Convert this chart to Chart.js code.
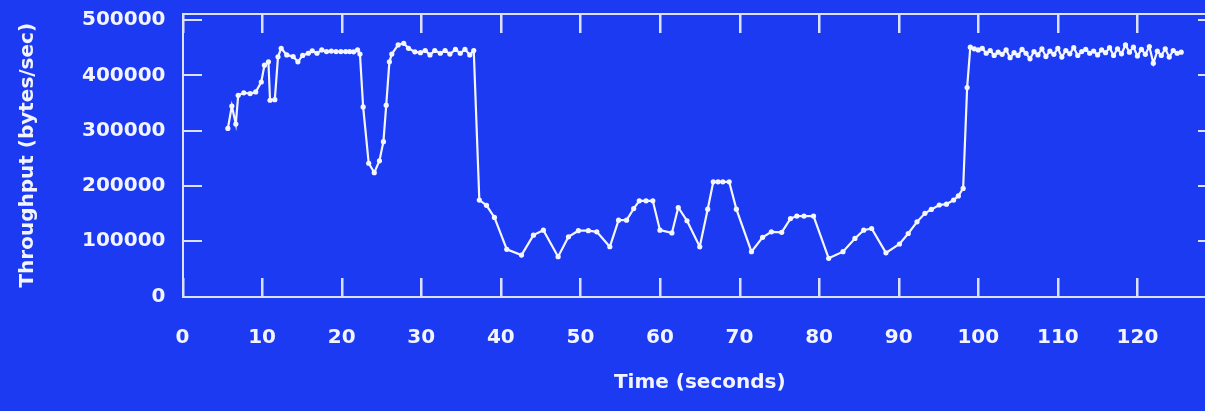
<!DOCTYPE html>
<html><head><meta charset="utf-8">
<script src="https://cdn.jsdelivr.net/npm/chart.js@4.4.0/dist/chart.umd.min.js"></script>
<style>
html,body{margin:0;padding:0;background:#1b3af2;overflow:hidden;width:1205px;height:411px}
#wrap{position:absolute;left:0;top:0;width:1240px;height:411px}
</style>
</head><body><div id="wrap"><canvas id="c"></canvas></div>
<script>
const timeSec = [
  5.7, 6.2, 6.7, 7.0, 7.7, 8.5, 9.2, 9.9, 10.3, 10.8, 11.0, 11.6, 12.0, 12.4, 13.1, 13.9, 14.5, 15.1, 15.8, 16.3, 16.9,
  17.5, 18.1, 18.7, 19.3, 19.9, 20.5, 21.0, 21.5, 22.0, 22.3, 22.7, 23.4, 24.1, 24.75, 25.25, 25.6, 26.0, 26.3, 27.1,
  27.8, 28.4, 29.2, 29.9, 30.5, 31.1, 31.7, 32.4, 33.0, 33.6, 34.3, 34.9, 35.5, 36.1, 36.6,
  37.3, 38.2, 39.2, 40.75, 42.6, 44.1, 45.35, 47.2, 48.5, 49.75, 51.0, 52.06, 53.7, 54.8, 55.8, 56.7, 57.4, 58.25, 59.1,
  60.0, 61.5, 62.3, 63.4, 65.0, 66.0, 66.7, 67.3, 67.9, 68.7, 69.6, 71.5, 72.9, 74.0, 75.3, 76.4, 77.2, 78.1, 79.3,
  81.2, 83.0, 84.5, 85.6, 86.6, 88.4, 90.1, 91.2, 92.3, 93.3, 94.1, 95.1, 96.0, 96.9, 97.5, 98.1, 98.6,
  99.0, 99.5, 100.0, 100.5, 101.0, 101.5, 102.0, 102.5, 103.0, 103.5, 104.0, 104.5, 105.0, 105.5, 106.0, 106.5,
  107.0, 107.5, 108.0, 108.5, 109.0, 109.5, 110.0, 110.5, 111.0, 111.5, 112.0, 112.5, 113.0, 113.5, 114.0, 114.5,
  115.0, 115.5, 116.0, 116.5, 117.0, 117.5, 118.0, 118.5, 119.0, 119.5, 120.0, 120.5, 121.0, 121.5, 122.0, 122.5,
  123.0, 123.5, 124.0, 124.5, 125.0, 125.5
];
const throughput = [
  304000, 344500, 312000, 364000, 368500, 367000, 370000, 388000, 418500, 424500, 355000, 356000, 433500, 449000, 437000, 434000, 424500, 436000, 440000, 444500, 440000,
  446000, 443000, 444000, 443000, 443000, 443000, 443000, 442500, 446000, 438500, 343000, 241000, 224000, 245500, 280000, 346000, 424500, 438500, 455000,
  458000, 449000, 442500, 441000, 445000, 437000, 445000, 440000, 445000, 438500, 447000, 440000, 447000, 437000, 445000,
  174500, 165000, 143000, 85300, 75000, 111000, 120000, 72000, 108000, 119000, 119000, 117000, 90000, 138000, 138000, 159000, 173000, 173000, 173000,
  120000, 115000, 161000, 137000, 90000, 158000, 207500, 207500, 207500, 207500, 158000, 81000, 107000, 117000, 116000, 141000, 145500, 145500, 145500,
  69000, 81000, 105000, 120000, 123000, 79000, 95000, 114000, 135000, 150500, 157500, 165500, 167000, 174500, 182000, 195500, 378000,
  451000, 448000, 446000, 449000, 440000, 445000, 436000, 442000, 438000, 446000, 432000, 441000, 436000, 447000, 440000, 430000,
  443000, 437000, 448000, 434000, 444000, 438000, 449000, 433000, 445000, 439000, 450000, 436000, 443000, 447000, 440000, 444000,
  437000, 446000, 441000, 450000, 436000, 448000, 439000, 455000, 442000, 451000, 435000, 447000, 438000, 452000, 422000, 444000,
  436000, 448000, 433000, 445000, 440000, 442000
];
const xTickValues = [0, 10, 20, 30, 40, 50, 60, 70, 80, 90, 100, 110, 120];
const yTickValues = [0, 100000, 200000, 300000, 400000, 500000];

const FONT = {family: '"DejaVu Sans", sans-serif', size: 20, weight: 'bold'};
const TEXT = '#f2f4ff';
const FRAME = '#dbe2ff';

const framePlugin = {
  id: 'frame',
  afterDraw(chart) {
    const ctx = chart.ctx;
    const x = chart.scales.x, y = chart.scales.y;
    const left = Math.round(x.getPixelForValue(x.min)), right = Math.round(x.getPixelForValue(x.max));
    const top = Math.round(y.getPixelForValue(y.max)), bottom = Math.round(y.getPixelForValue(y.min));
    const W = 2, L = 19;
    ctx.save();
    ctx.fillStyle = FRAME;
    ctx.fillRect(left - 1, top - 1, right - left + 2, W);
    ctx.fillRect(left - 1, bottom - 1, right - left + 2, W);
    ctx.fillRect(left - 1, top - 1, W, bottom - top + 2);
    ctx.fillRect(right - 1, top - 1, W, bottom - top + 2);
    for (let i = 0; i < xTickValues.length; i++) {
      const px = Math.round(x.getPixelForValue(xTickValues[i]));
      ctx.fillRect(px - 1, bottom - L, 2.5, L);
      ctx.fillRect(px - 1, top, 2.5, L);
    }
    for (let i = 0; i < yTickValues.length; i++) {
      const py = Math.round(y.getPixelForValue(yTickValues[i]));
      ctx.fillRect(left, py - 1, L, W);
      ctx.fillRect(right - L, py - 1, L, W);
    }
    ctx.restore();
  }
};

new Chart(document.getElementById('c'), {
  type: 'line',
  data: {
    datasets: [{
      data: timeSec.map((t, i) => ({x: t, y: throughput[i]})),
      borderColor: '#f4f6ff',
      borderWidth: 2.2,
      pointRadius: 2.6,
      pointBackgroundColor: '#f4f6ff',
      pointBorderWidth: 0,
      tension: 0
    }]
  },
  options: {
    responsive: true,
    maintainAspectRatio: false,
    animation: false,
    layout: {padding: {left: 12, top: 14, right: 23, bottom: 0}},
    plugins: {legend: {display: false}, tooltip: {enabled: false}},
    scales: {
      x: {
        type: 'linear', min: 0, max: 130,
        afterBuildTicks: s => { s.ticks = xTickValues.map(v => ({value: v})); },
        afterFit: s => { s.height = 114.5; s.paddingLeft = 0; s.paddingRight = 0; },
        grid: {display: false, drawTicks: false},
        border: {display: false},
        ticks: {color: TEXT, font: FONT, padding: 29, maxRotation: 0, autoSkip: false, callback: v => String(v)},
        title: {display: true, text: 'Time (seconds)', color: TEXT, font: FONT, padding: {top: 4, bottom: 16}}
      },
      y: {
        type: 'linear', min: 0, max: 511000,
        afterBuildTicks: s => { s.ticks = yTickValues.map(v => ({value: v})); },
        afterFit: s => { s.width = 170.5; s.paddingTop = 0; s.paddingBottom = 0; },
        grid: {display: false, drawTicks: false},
        border: {display: false},
        ticks: {color: TEXT, font: FONT, padding: 17, autoSkip: false, callback: v => String(v)},
        title: {display: true, text: 'Throughput (bytes/sec)', color: TEXT, font: FONT, padding: {top: 4, bottom: 4}}
      }
    }
  },
  plugins: [framePlugin]
});
</script>
</body></html>
